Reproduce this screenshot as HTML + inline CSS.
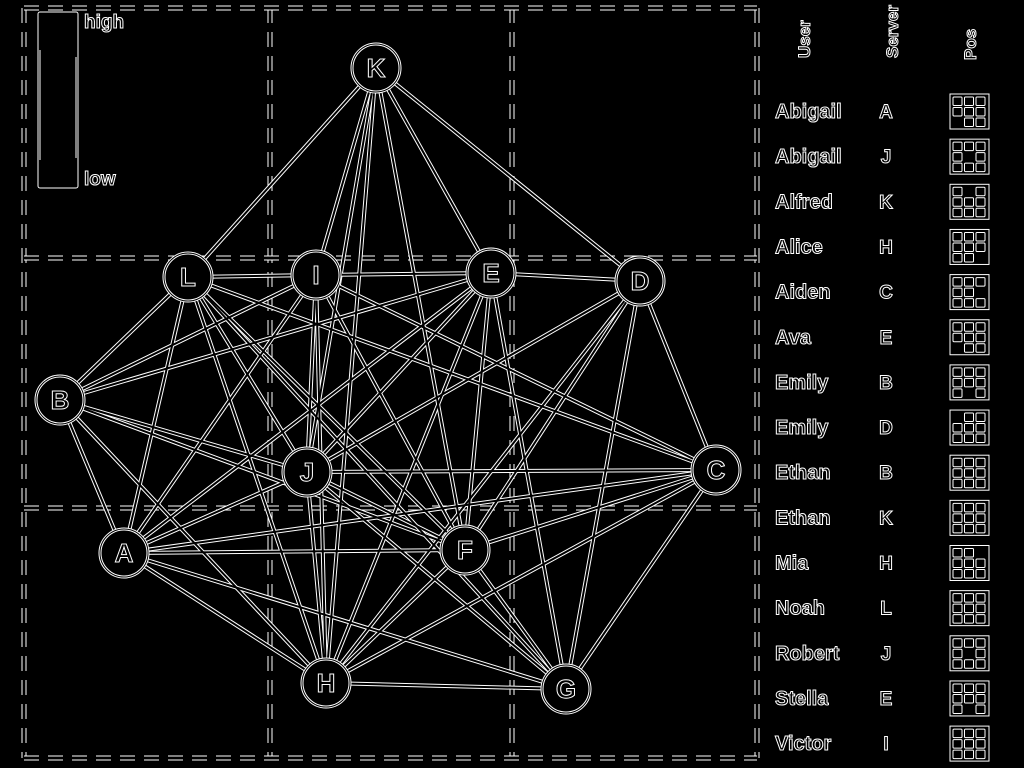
<!DOCTYPE html>
<html><head><meta charset="utf-8"><style>
html,body{margin:0;padding:0;background:#000;}
svg{display:block}
text{font-family:"Liberation Sans","DejaVu Sans",sans-serif;font-weight:bold;fill:#000;stroke:#fff;stroke-width:1}
</style></head><body>
<svg id="chart" width="1024" height="768" viewBox="0 0 1024 768">
<g id="grid"></g>
<g id="edges"></g>
<g id="nodes"></g>
<g id="legend">
  <rect x="38" y="12" width="40" height="176" rx="2" fill="none" stroke="#fff" stroke-width="1"/>
  <line x1="40" y1="50" x2="40" y2="160" stroke="#fff"/>
  <line x1="76" y1="57" x2="76" y2="158" stroke="#fff"/>
  <text x="84" y="28" font-size="19">high</text>
  <text x="84" y="185" font-size="19">low</text>
</g>
<g id="table">
  <text transform="translate(810,58) rotate(-90)" font-size="17">User</text>
  <text transform="translate(898,58) rotate(-90)" font-size="17">Server</text>
  <text transform="translate(976,60) rotate(-90)" font-size="17">Pos</text>
</g>
</svg>
<script>
const nodeNames=['K','L','I','E','D','B','J','C','A','F','H','G'];
const nodeX=[376,188,316,491,640,60,307,716,124,465,326,566];
const nodeY=[68,277,275,273,281,400,472,470,553,550,683,689];
const edgeList=[['K','L'],['K','I'],['K','J'],['K','H'],['K','E'],['K','D'],['K','F'],
['L','I'],['L','B'],['L','A'],['L','J'],['L','H'],['L','F'],['L','G'],['L','C'],
['I','E'],['I','B'],['I','J'],['I','H'],['I','A'],['I','F'],['I','C'],
['E','D'],['E','B'],['E','J'],['E','H'],['E','F'],['E','G'],['E','A'],
['D','J'],['D','H'],['D','F'],['D','G'],['D','C'],
['B','J'],['B','F'],['B','A'],['B','H'],
['J','C'],['J','A'],['J','F'],['J','G'],['J','H'],
['C','A'],['C','F'],['C','H'],['C','G'],
['A','F'],['A','H'],['A','G'],['F','H'],['F','G'],['H','G']];
const users=['Abigail','Abigail','Alfred','Alice','Aiden','Ava','Emily','Emily','Ethan','Ethan','Mia','Noah','Robert','Stella','Victor'];
const servers=['A','J','K','H','C','E','B','D','B','K','H','L','J','E','I'];
const posMasks=['111111011','111101111','101111111','111111110','111110111','111111011','111111101','011111111','111111111','111111111','110111111','111111111','111101111','111111101','111111111'];

const NS='http://www.w3.org/2000/svg';
function mk(tag,attrs,parent){const e=document.createElementNS(NS,tag);for(const k in attrs)e.setAttribute(k,attrs[k]);parent.appendChild(e);return e;}
const grid=document.getElementById('grid');
const gx=[24,270,512,757], gy=[8,258,508,758];
function dashLine(x1,y1,x2,y2){
  const a=mk('line',{x1,y1,x2,y2,stroke:'#fff','stroke-width':5,'stroke-dasharray':'15 9'},grid);
  
  
  const b=mk('line',{x1,y1,x2,y2,stroke:'#000','stroke-width':3,'stroke-dasharray':'15 9'},grid);
  
  
}
gx.forEach(x=>dashLine(x,gy[0],x,gy[3]));
gy.forEach(y=>dashLine(gx[0],y,gx[3],y));

const eg=document.getElementById('edges');
const idx=n=>nodeNames.indexOf(n);
edgeList.forEach(([s,t])=>{
  const i=idx(s),j=idx(t);
  const a=mk('line',{x1:nodeX[i],y1:nodeY[i],x2:nodeX[j],y2:nodeY[j],stroke:'#fff','stroke-width':4},eg);
  
  
});
edgeList.forEach(([s,t])=>{
  const i=idx(s),j=idx(t);
  const b=mk('line',{x1:nodeX[i],y1:nodeY[i],x2:nodeX[j],y2:nodeY[j],stroke:'#000','stroke-width':2},eg);
  
  
});
const ng=document.getElementById('nodes');
nodeNames.forEach((n,i)=>{
  const g=mk('g',{},ng);
  
  
  mk('circle',{cx:nodeX[i],cy:nodeY[i],r:25,fill:'#000',stroke:'#fff','stroke-width':1},g);
  mk('circle',{cx:nodeX[i],cy:nodeY[i],r:23,fill:'none',stroke:'#fff','stroke-width':1},g);
  const t=mk('text',{x:nodeX[i],y:nodeY[i]+9,'font-size':26,'text-anchor':'middle'},g);
  t.textContent=n;
});
const tb=document.getElementById('table');
users.forEach((u,r)=>{
  const y=111+r*45.15;
  const a=mk('text',{x:775,y:y+7,'font-size':20},tb);a.textContent=u;
  
  
  const b=mk('text',{x:886,y:y+7,'font-size':19,'text-anchor':'middle'},tb);b.textContent=servers[r];
  
  
  const g=mk('g',{},tb);
  
  
  mk('rect',{x:950,y:y-17,width:39,height:35,fill:'none',stroke:'#fff'},g);
  for(let k=0;k<9;k++){if(posMasks[r][k]!=='1')continue;
    mk('rect',{x:953+(k%3)*11.5,y:y-14+Math.floor(k/3)*10.5,width:9,height:8.5,rx:1,fill:'none',stroke:'#fff'},g);}
});
</script>
</body></html>
